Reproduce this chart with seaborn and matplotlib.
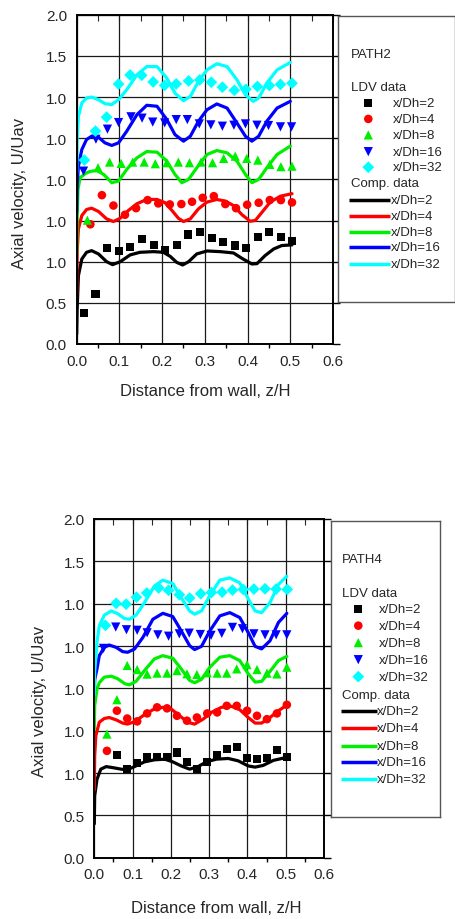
import matplotlib
matplotlib.use("Agg")
import matplotlib.pyplot as plt
import seaborn as sns

# -----------------------------
# Data: PATH2 (top panel)
# -----------------------------
# LDV data (markers)
p2_ldv2_x = [0.017, 0.044, 0.071, 0.098, 0.125, 0.152, 0.180, 0.207, 0.234, 0.261, 0.288, 0.316, 0.343, 0.370, 0.397, 0.424, 0.451, 0.478, 0.505]
p2_ldv2_y = [0.19, 0.305, 0.583, 0.565, 0.589, 0.638, 0.600, 0.571, 0.604, 0.665, 0.681, 0.646, 0.620, 0.598, 0.583, 0.648, 0.683, 0.652, 0.626]
p2_ldv4_x = [0.032, 0.059, 0.086, 0.113, 0.139, 0.166, 0.191, 0.218, 0.245, 0.270, 0.295, 0.321, 0.348, 0.373, 0.399, 0.426, 0.452, 0.478, 0.504]
p2_ldv4_y = [0.727, 0.904, 0.841, 0.785, 0.825, 0.874, 0.854, 0.848, 0.850, 0.864, 0.888, 0.898, 0.850, 0.825, 0.846, 0.858, 0.874, 0.874, 0.860]
p2_ldv8_x = [0.025, 0.050, 0.077, 0.104, 0.131, 0.158, 0.184, 0.211, 0.238, 0.264, 0.291, 0.318, 0.344, 0.371, 0.398, 0.424, 0.452, 0.478, 0.504]
p2_ldv8_y = [0.752, 1.071, 1.105, 1.097, 1.105, 1.105, 1.095, 1.101, 1.105, 1.101, 1.105, 1.101, 1.127, 1.141, 1.127, 1.117, 1.091, 1.077, 1.080]
p2_ldv16_x = [0.016, 0.045, 0.072, 0.098, 0.127, 0.153, 0.178, 0.206, 0.233, 0.259, 0.287, 0.314, 0.341, 0.368, 0.395, 0.422, 0.449, 0.477, 0.503]
p2_ldv16_y = [1.05, 1.244, 1.305, 1.345, 1.380, 1.372, 1.348, 1.343, 1.363, 1.363, 1.337, 1.331, 1.323, 1.329, 1.337, 1.329, 1.327, 1.319, 1.319]
p2_ldv32_x = [0.018, 0.044, 0.070, 0.098, 0.125, 0.152, 0.179, 0.206, 0.233, 0.262, 0.288, 0.315, 0.341, 0.369, 0.396, 0.423, 0.451, 0.477, 0.504]
p2_ldv32_y = [1.117, 1.293, 1.378, 1.579, 1.634, 1.632, 1.592, 1.571, 1.580, 1.598, 1.604, 1.590, 1.560, 1.541, 1.547, 1.564, 1.570, 1.577, 1.584]

# Computed data (curves)
p2_cmp2_x = [0.0, 0.001, 0.004, 0.012, 0.023, 0.035, 0.051, 0.070, 0.084, 0.102, 0.125, 0.148, 0.180, 0.203, 0.219, 0.234, 0.248, 0.262, 0.281, 0.305, 0.336, 0.367, 0.387, 0.410, 0.422, 0.441, 0.461, 0.480, 0.504]
p2_cmp2_y = [0.06, 0.21, 0.415, 0.516, 0.557, 0.567, 0.547, 0.500, 0.482, 0.500, 0.541, 0.557, 0.561, 0.557, 0.532, 0.496, 0.480, 0.500, 0.547, 0.565, 0.561, 0.553, 0.520, 0.486, 0.488, 0.537, 0.577, 0.598, 0.602]
p2_cmp4_x = [0.0, 0.001, 0.004, 0.012, 0.023, 0.035, 0.051, 0.070, 0.086, 0.102, 0.121, 0.141, 0.164, 0.188, 0.207, 0.223, 0.238, 0.250, 0.266, 0.285, 0.305, 0.328, 0.348, 0.367, 0.387, 0.406, 0.418, 0.434, 0.453, 0.477, 0.504]
p2_cmp4_y = [0.30, 0.557, 0.699, 0.780, 0.817, 0.825, 0.805, 0.760, 0.744, 0.764, 0.811, 0.852, 0.878, 0.878, 0.858, 0.811, 0.764, 0.744, 0.760, 0.821, 0.862, 0.878, 0.868, 0.841, 0.785, 0.746, 0.750, 0.801, 0.862, 0.898, 0.913]
p2_cmp8_x = [0.0, 0.001, 0.003, 0.008, 0.020, 0.031, 0.047, 0.063, 0.082, 0.098, 0.117, 0.141, 0.164, 0.188, 0.211, 0.230, 0.246, 0.262, 0.281, 0.305, 0.328, 0.352, 0.375, 0.395, 0.410, 0.426, 0.445, 0.469, 0.500]
p2_cmp8_y = [0.55, 0.76, 0.94, 1.01, 1.035, 1.048, 1.054, 1.030, 0.980, 0.990, 1.060, 1.131, 1.169, 1.165, 1.111, 1.030, 0.980, 1.000, 1.070, 1.151, 1.175, 1.161, 1.111, 1.030, 0.980, 1.000, 1.070, 1.151, 1.202]
p2_cmp16_x = [0.0, 0.001, 0.004, 0.012, 0.023, 0.035, 0.051, 0.066, 0.082, 0.098, 0.117, 0.141, 0.164, 0.188, 0.211, 0.230, 0.250, 0.266, 0.285, 0.305, 0.328, 0.352, 0.375, 0.395, 0.410, 0.426, 0.445, 0.469, 0.500]
p2_cmp16_y = [0.80, 0.96, 1.08, 1.181, 1.242, 1.262, 1.256, 1.222, 1.206, 1.222, 1.292, 1.393, 1.450, 1.444, 1.363, 1.272, 1.232, 1.262, 1.353, 1.423, 1.458, 1.433, 1.343, 1.262, 1.232, 1.262, 1.353, 1.433, 1.474]
p2_cmp32_x = [0.0, 0.001, 0.004, 0.012, 0.023, 0.035, 0.051, 0.066, 0.082, 0.098, 0.117, 0.141, 0.164, 0.188, 0.211, 0.230, 0.250, 0.266, 0.285, 0.305, 0.328, 0.352, 0.375, 0.395, 0.413, 0.426, 0.445, 0.469, 0.500]
p2_cmp32_y = [1.04, 1.24, 1.383, 1.464, 1.494, 1.500, 1.484, 1.460, 1.454, 1.484, 1.544, 1.635, 1.685, 1.685, 1.615, 1.524, 1.478, 1.504, 1.595, 1.665, 1.702, 1.685, 1.605, 1.514, 1.474, 1.494, 1.585, 1.665, 1.710]

# -----------------------------
# Data: PATH4 (bottom panel)
# -----------------------------
p4_ldv2_x = [0.059, 0.086, 0.112, 0.138, 0.164, 0.190, 0.216, 0.242, 0.268, 0.295, 0.321, 0.346, 0.372, 0.399, 0.425, 0.451, 0.477, 0.503]
p4_ldv2_y = [0.609, 0.526, 0.558, 0.597, 0.597, 0.597, 0.621, 0.566, 0.526, 0.566, 0.605, 0.641, 0.655, 0.591, 0.582, 0.591, 0.635, 0.597]
p4_ldv4_x = [0.033, 0.059, 0.086, 0.112, 0.138, 0.164, 0.190, 0.216, 0.242, 0.268, 0.295, 0.321, 0.346, 0.372, 0.399, 0.425, 0.451, 0.477, 0.503]
p4_ldv4_y = [0.631, 0.868, 0.822, 0.805, 0.852, 0.888, 0.882, 0.838, 0.809, 0.828, 0.852, 0.858, 0.897, 0.897, 0.868, 0.838, 0.818, 0.852, 0.903]
p4_ldv8_x = [0.033, 0.059, 0.086, 0.112, 0.138, 0.164, 0.190, 0.216, 0.242, 0.268, 0.295, 0.321, 0.346, 0.372, 0.399, 0.425, 0.451, 0.477, 0.503]
p4_ldv8_y = [0.730, 0.933, 1.135, 1.111, 1.084, 1.090, 1.090, 1.105, 1.086, 1.082, 1.092, 1.090, 1.090, 1.115, 1.140, 1.111, 1.090, 1.085, 1.125]
p4_ldv16_x = [0.024, 0.056, 0.084, 0.112, 0.138, 0.166, 0.194, 0.222, 0.248, 0.277, 0.305, 0.333, 0.361, 0.387, 0.417, 0.446, 0.475, 0.503]
p4_ldv16_y = [1.236, 1.362, 1.346, 1.343, 1.328, 1.316, 1.308, 1.322, 1.326, 1.318, 1.313, 1.325, 1.360, 1.352, 1.322, 1.316, 1.316, 1.316]
p4_ldv32_x = [0.029, 0.057, 0.083, 0.110, 0.137, 0.168, 0.194, 0.222, 0.249, 0.278, 0.306, 0.334, 0.361, 0.389, 0.417, 0.446, 0.475, 0.504]
p4_ldv32_y = [1.372, 1.502, 1.497, 1.538, 1.563, 1.593, 1.579, 1.553, 1.533, 1.559, 1.566, 1.568, 1.580, 1.584, 1.586, 1.588, 1.586, 1.584]

p4_cmp2_x = [0.0, 0.001, 0.007, 0.017, 0.031, 0.048, 0.070, 0.086, 0.105, 0.131, 0.157, 0.184, 0.205, 0.227, 0.249, 0.271, 0.293, 0.319, 0.350, 0.376, 0.402, 0.420, 0.441, 0.468, 0.498]
p4_cmp2_y = [0.20, 0.365, 0.463, 0.523, 0.538, 0.532, 0.523, 0.519, 0.538, 0.566, 0.578, 0.582, 0.566, 0.542, 0.523, 0.538, 0.566, 0.582, 0.586, 0.572, 0.542, 0.535, 0.545, 0.575, 0.590]
p4_cmp4_x = [0.0, 0.001, 0.004, 0.013, 0.026, 0.039, 0.057, 0.074, 0.087, 0.105, 0.127, 0.153, 0.179, 0.201, 0.223, 0.245, 0.262, 0.284, 0.306, 0.332, 0.358, 0.380, 0.402, 0.420, 0.437, 0.459, 0.481, 0.503]
p4_cmp4_y = [0.40, 0.60, 0.72, 0.800, 0.822, 0.828, 0.814, 0.795, 0.789, 0.803, 0.838, 0.874, 0.888, 0.878, 0.838, 0.799, 0.789, 0.818, 0.858, 0.888, 0.894, 0.874, 0.828, 0.795, 0.795, 0.828, 0.868, 0.901]
p4_cmp8_x = [0.0, 0.001, 0.007, 0.013, 0.026, 0.044, 0.061, 0.080, 0.092, 0.109, 0.131, 0.157, 0.179, 0.205, 0.227, 0.249, 0.262, 0.280, 0.302, 0.328, 0.354, 0.380, 0.402, 0.420, 0.437, 0.459, 0.481, 0.503]
p4_cmp8_y = [0.76, 0.90, 0.996, 1.033, 1.066, 1.072, 1.057, 1.027, 1.021, 1.041, 1.105, 1.174, 1.193, 1.178, 1.115, 1.047, 1.033, 1.053, 1.125, 1.184, 1.193, 1.164, 1.086, 1.037, 1.041, 1.100, 1.164, 1.189]
p4_cmp16_x = [0.0, 0.001, 0.007, 0.013, 0.026, 0.039, 0.057, 0.074, 0.087, 0.105, 0.127, 0.153, 0.179, 0.205, 0.227, 0.249, 0.262, 0.280, 0.302, 0.328, 0.354, 0.380, 0.402, 0.420, 0.437, 0.459, 0.481, 0.503]
p4_cmp16_y = [0.96, 1.05, 1.115, 1.193, 1.242, 1.256, 1.242, 1.217, 1.213, 1.232, 1.301, 1.408, 1.443, 1.424, 1.340, 1.252, 1.229, 1.248, 1.340, 1.428, 1.447, 1.418, 1.330, 1.248, 1.233, 1.281, 1.389, 1.443]
p4_cmp32_x = [0.0, 0.001, 0.007, 0.013, 0.026, 0.044, 0.061, 0.079, 0.092, 0.109, 0.131, 0.157, 0.179, 0.205, 0.227, 0.249, 0.262, 0.280, 0.302, 0.328, 0.354, 0.380, 0.402, 0.420, 0.437, 0.459, 0.481, 0.503]
p4_cmp32_y = [0.96, 1.10, 1.271, 1.369, 1.432, 1.457, 1.441, 1.412, 1.408, 1.432, 1.506, 1.604, 1.639, 1.619, 1.535, 1.457, 1.438, 1.457, 1.549, 1.639, 1.652, 1.623, 1.529, 1.457, 1.447, 1.506, 1.613, 1.662]

# Labels / ticks
series_labels = ["x/Dh=2", "x/Dh=4", "x/Dh=8", "x/Dh=16", "x/Dh=32"]
x_ticks = [0.0, 0.1, 0.2, 0.3, 0.4, 0.5, 0.6]
x_tick_labels = ["0.0", "0.1", "0.2", "0.3", "0.4", "0.5", "0.6"]
x_minor = [0.05, 0.15, 0.25, 0.35, 0.45, 0.55]
y_ticks = [0.0, 0.25, 0.5, 0.75, 1.0, 1.25, 1.5, 1.75, 2.0]
y_tick_labels = ["0.0", "0.5", "1.0", "1.0", "1.0", "1.0", "1.0", "1.5", "2.0"]

colors = ["#000000", "#ff0000", "#00ee00", "#0000ff", "#00ffff"]
markers = ["s", "o", "^", "v", "D"]
msizes = [34, 38, 44, 44, 36]

# -----------------------------
# Style
# -----------------------------
sns.set_style("white")
plt.rcParams["font.family"] = ["Liberation Sans", "DejaVu Sans"]

fig = plt.figure(figsize=(4.56, 9.2), dpi=100)


def draw_panel(rect, ldv, comp, xlab_xy, ylab_xy):
    ax = fig.add_axes(rect)
    for (lx, ly), c in zip(comp, colors):
        sns.lineplot(x=lx, y=ly, color=c, lw=2.3, sort=False, estimator=None, ax=ax, zorder=2)
    for (mx, my), c, m, s in zip(ldv, colors, markers, msizes):
        sns.scatterplot(x=mx, y=my, color=c, marker=m, s=s, edgecolor="none", ax=ax, zorder=3)
    ax.set_xlim(0, 0.6)
    ax.set_ylim(0, 2.0)
    ax.set_xticks(x_ticks)
    ax.set_xticklabels(x_tick_labels, fontsize=11)
    ax.set_xticks(x_minor, minor=True)
    ax.set_yticks(y_ticks)
    ax.set_yticklabels(y_tick_labels, fontsize=11)
    ax.grid(True, which="major", color="#1a1a1a", lw=0.9)
    ax.tick_params(axis="both", which="major", direction="out", length=5, width=1, color="black", pad=2)
    ax.tick_params(axis="x", which="minor", direction="out", length=3, width=1, color="black", bottom=True)
    ax.tick_params(axis="y", right=True)
    for sp in ax.spines.values():
        sp.set_color("black")
        sp.set_linewidth(1.4)
    top = ax.secondary_xaxis("top")
    top.set_xticks(x_ticks + x_minor)
    top.tick_params(direction="in", length=4, labeltop=False)
    ax.set_xlabel("Distance from wall, z/H", fontsize=12)
    ax.set_ylabel("Axial velocity, U/Uav", fontsize=12)
    ax.xaxis.set_label_coords(*xlab_xy)
    ax.yaxis.set_label_coords(*ylab_xy)
    return ax


def draw_legend(rect, w, h, title, title_xy, hdr1_y, mk_x, mk_ys, lab_x1,
                hdr2_y, ln_x0, ln_x1, ln_ys, lab_x2):
    lax = fig.add_axes(rect)
    lax.set_xlim(0, w)
    lax.set_ylim(h, 0)
    lax.set_xticks([])
    lax.set_yticks([])
    for sp in lax.spines.values():
        sp.set_color("#555555")
        sp.set_linewidth(1.0)
    fs = 9.5
    lax.text(title_xy[0], title_xy[1], title, fontsize=fs, va="center")
    lax.text(title_xy[0], hdr1_y, "LDV data", fontsize=fs, va="center")
    for yy, c, m, s, lab in zip(mk_ys, colors, markers, msizes, series_labels):
        lax.scatter([mk_x], [yy], color=c, marker=m, s=s, edgecolor="none")
        lax.text(lab_x1, yy, lab, fontsize=fs, va="center")
    lax.text(title_xy[0], hdr2_y, "Comp. data", fontsize=fs, va="center")
    for yy, c, lab in zip(ln_ys, colors, series_labels):
        lax.plot([ln_x0, ln_x1], [yy, yy], color=c, lw=2.5, solid_capstyle="butt")
        lax.text(lab_x2, yy, lab, fontsize=fs, va="center")


# -----------------------------
# Top panel: PATH2
# -----------------------------
draw_panel([0.1682, 0.625, 0.5621, 0.3579],
           [(p2_ldv2_x, p2_ldv2_y), (p2_ldv4_x, p2_ldv4_y), (p2_ldv8_x, p2_ldv8_y),
            (p2_ldv16_x, p2_ldv16_y), (p2_ldv32_x, p2_ldv32_y)],
           [(p2_cmp2_x, p2_cmp2_y), (p2_cmp4_x, p2_cmp4_y), (p2_cmp8_x, p2_cmp8_y),
            (p2_cmp16_x, p2_cmp16_y), (p2_cmp32_x, p2_cmp32_y)],
           (0.5, -0.118), (-0.194, 0.46))
draw_legend([0.7412, 0.6707, 0.2566, 0.3109], 117, 286, "PATH2", (13, 38), 71,
            30.3, [87.3, 103, 119, 135.7, 151.3], 55.3,
            167, 11.3, 52, [183.7, 199.7, 215.7, 231.3, 248], 53)

# -----------------------------
# Bottom panel: PATH4
# -----------------------------
draw_panel([0.2068, 0.0666, 0.5037, 0.3682],
           [(p4_ldv2_x, p4_ldv2_y), (p4_ldv4_x, p4_ldv4_y), (p4_ldv8_x, p4_ldv8_y),
            (p4_ldv16_x, p4_ldv16_y), (p4_ldv32_x, p4_ldv32_y)],
           [(p4_cmp2_x, p4_cmp2_y), (p4_cmp4_x, p4_cmp4_y), (p4_cmp8_x, p4_cmp8_y),
            (p4_cmp16_x, p4_cmp16_y), (p4_cmp32_x, p4_cmp32_y)],
           (0.53, -0.125), (-0.206, 0.463))
draw_legend([0.7252, 0.1109, 0.2397, 0.3221], 109.3, 296.3, "PATH4", (11, 38.3), 72.6,
            27.6, [88.3, 105, 122, 139, 156], 48.6,
            174.3, 10, 46, [190, 207.6, 225, 241.6, 258.3], 46.3)

fig.savefig("out.png", dpi=100)
